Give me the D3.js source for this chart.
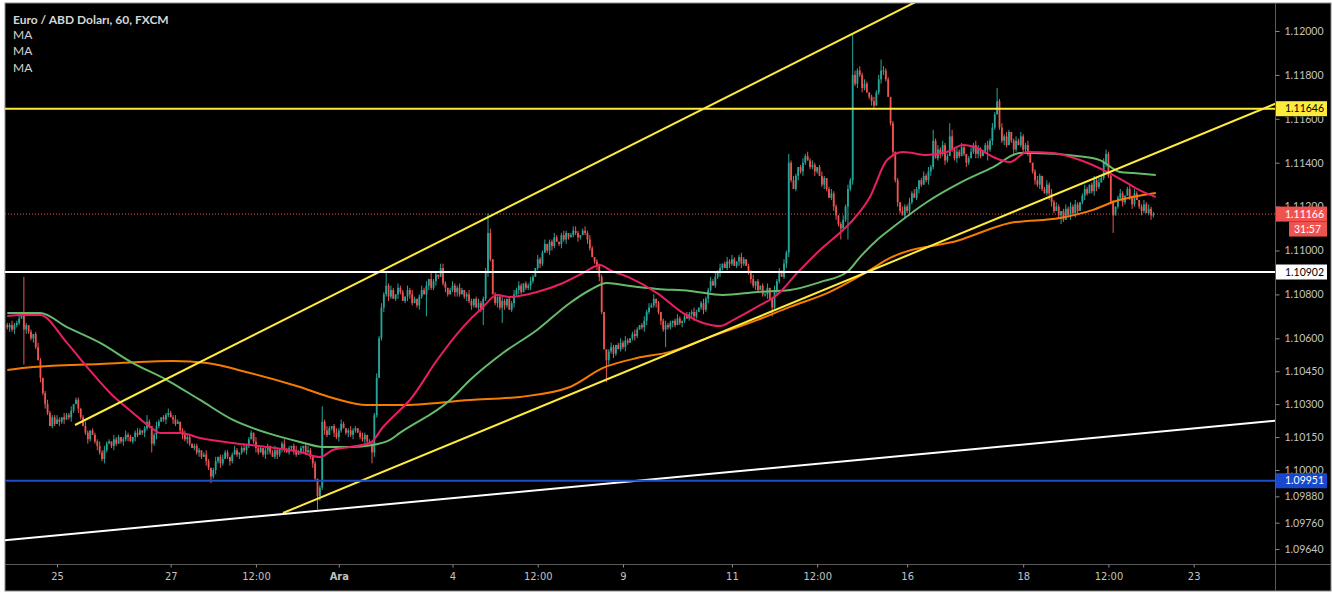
<!DOCTYPE html>
<html><head><meta charset="utf-8">
<script src="https://cdn.jsdelivr.net/npm/d3@7"></script>
<style>
html,body{margin:0;padding:0;background:#fff;}
svg{display:block;}
</style></head><body>
<svg id="c" width="1332" height="592"></svg>
<script>
// ---- DATA (prices in pips above basePrice) ----
const basePrice = 1.1;
const firstOpen = 66;
const closes = [
65,66,64,66,67,69,71,64,66,63,
60,62,56,50,42,35,30,26,20,24,
21,23,22,24,23,25,24,27,30,32,
28,24,20,17,14,18,16,13,11,8,
5,9,12,13,11,14,12,15,13,14,
16,15,13,15,17,16,18,17,19,22,
20,12,16,20,22,24,23,25,26,24,
23,21,22,18,16,14,15,12,10,11,
8,9,6,7,4,1,-3,0,4,6,
3,5,8,6,4,7,9,7,8,10,
9,11,14,17,13,10,8,10,7,9,
11,8,6,9,7,10,12,9,8,10,
11,9,7,8,10,11,8,9,6,3,
-4,-12,-8,22,18,16,19,20,17,15,
18,21,19,17,18,16,18,19,17,15,
14,16,13,12,8,25,42,60,74,80,
84,79,82,78,80,83,81,77,79,82,
80,76,78,75,79,82,80,84,87,83,
86,89,88,92,85,83,80,82,84,81,
83,80,82,79,80,77,75,78,74,76,
73,78,90,108,96,80,76,79,74,77,
75,78,73,76,80,82,84,81,85,83,
84,86,88,92,96,94,99,103,100,104,
102,106,104,103,107,105,108,106,107,109,
108,106,107,109,108,105,101,97,95,93,
88,72,55,50,54,56,53,57,55,58,
56,59,58,60,62,61,64,66,65,68,
72,74,75,78,76,72,68,64,66,65,
67,68,66,69,67,68,70,69,71,72,
70,72,74,76,73,78,82,86,84,88,
90,92,94,92,95,94,96,93,95,97,
94,96,93,90,87,84,86,82,84,80,
80,83,78,74,82,86,90,88,94,99,
140,132,128,134,138,136,140,143,141,138,
139,136,138,134,130,133,128,124,126,120,
116,112,110,114,120,128,132,180,176,182,
180,174,176,172,170,168,166,172,178,182,
182,178,170,158,145,132,122,118,116,120,
118,122,126,124,128,132,130,134,132,136,
138,150,142,146,144,148,141,143,152,146,
142,145,143,147,144,140,142,145,148,144,
146,143,145,148,146,150,156,162,168,156,
150,152,148,154,150,146,150,148,152,146,
148,144,140,136,132,130,134,128,126,130,
126,122,118,120,116,118,114,119,116,120,
117,121,118,122,125,128,126,130,127,132,
129,131,133,140,144,134,122,116,120,124,
126,122,125,128,124,121,126,123,120,118,
121,117,119,116,116.6];
// wick lengths in pips beyond the body (base-36 digits)
const upperWicks =
"1121120h10"+"1012101211"+"1210211201"+"1012101112"+"1211021101"+"2110121013"+"1012101121"+"1210121101"+"1101210120"+"1211012101"+
"2111021101"+"1012101211"+"0121101210"+"1017121012"+"1210121101"+"2101112121"+"6121021102"+"1210121203"+"1102210121"+"1210121012"+
"1129201012"+"1011212101"+"1210211201"+"1210121012"+"2101212101"+"1100121012"+"1210121012"+"1212010121"+"1012101211"+"2101211212"+
"1201212101"+"2101120101"+"1201212121"+"4121012121"+"2101210121"+"1012121j21"+"2121012125"+"2110101021"+"1212101212"+"1512121163"+
"1212101212"+"2101212161"+"2121012121"+"1210121012"+"1212101212"+"1210121012"+"1212212101"+"2101212101"+"21211";
const lowerWicks =
"1212110g21"+"1210212101"+"1021201210"+"2101210121"+"1210121012"+"1201210121"+"1412101210"+"2101212101"+"1210213121"+"2101210121"+
"1210121012"+"2101212101"+"1210121012"+"1621210121"+"2101212101"+"1210521012"+"1210121012"+"2101210a21"+"1210121012"+"2101212101"+
"1712101217"+"2101212101"+"1210121012"+"2101212101"+"1210121012"+"210a212101"+"1210121012"+"2101212181"+"1210121012"+"2101212101"+
"1210121012"+"2101212101"+"1214121012"+"2101212101"+"1210121012"+"21501f1212"+"1210121012"+"2101212101"+"1210121012"+"2101212101"+
"1210121012"+"2101512101"+"1210121012"+"2101212101"+"3210141012"+"1210121012"+"2101211801"+"1210121012"+"10121";

const timeTickBars = [21,69,105,140,188,224,260,306,342,380,429,465,501];
const timeTickLabels = ["25","27","12:00","Ara","4","12:00","9","11","12:00","16","18","12:00","23"];
const priceTicks = [1.12,1.118,1.116,1.114,1.112,1.11,1.108,1.106,1.1045,1.103,1.1015,1.10,1.0988,1.0976,1.0964];

// moving averages: [bar, pips]
const maFast = [[0,70.2],[6.6,70.6],[13.8,70.6],[25.2,57.9],[33.7,46.9],[43.4,35.1],[53.1,26.0],[60.3,19.6],[64.5,16.9],[73,16.9],[81.4,14.6],[95.3,12.3],[109.7,10.5],[123.6,8.2],[132,5.9],[137.5,9.1],[144.7,10.5],[153.2,12.3],[158.7,19.6],[165.8,27.3],[170,31.9],[181.5,50.1],[192.4,65.1],[200.9,74.3],[206.8,79.7],[212.3,78.8],[223.7,81.1],[234.7,85.2],[243.1,89.7],[250.3,93.4],[254.5,91.1],[263,87.5],[274.4,80.6],[285.4,71.5],[293.8,67.0],[301,65.6],[306.5,68.3],[316.6,74.3],[325,79.7],[333.5,89.7],[343.2,100.2],[352.9,109.3],[357.1,113.9],[364.3,124.4],[371.5,141.2],[378.3,144.9],[388.4,143.5],[396.8,144.9],[403.6,148.1],[409.5,146.7],[416.3,142.6],[423.4,140.3],[430.6,144.9],[441.6,144.4],[453,141.2],[464.4,135.8],[472.8,130.8],[479.6,126.7],[485,124.4]];
const maMid = [[0,71.5],[13.8,71.5],[25.2,65.1],[39.2,57.9],[53.1,48.7],[67.4,41.0],[81.4,31.9],[95.3,22.8],[109.7,16.9],[123.6,12.8],[133.3,10.5],[144.7,10.5],[154.4,11.4],[161.6,13.7],[165.8,16.9],[187,31.9],[195.4,41.0],[209.3,53.3],[223.7,63.8],[237.6,76.1],[246.1,82.0],[253.2,85.2],[263,83.8],[274.4,82.5],[288.3,81.6],[302.2,79.7],[316.6,81.1],[330.5,82.0],[343.2,85.6],[354.6,90.2],[360.1,97.0],[367.3,104.8],[374.1,110.7],[388.4,122.1],[402.3,130.8],[416.3,138.0],[427.7,144.4],[433.2,144.4],[451.7,143.1],[461.4,141.2],[469.9,135.8],[475.4,135.3],[485,134.4]];
const maSlow = [[0,45.6],[10.9,46.9],[39.2,48.3],[70,49.7],[84.3,48.7],[102.5,44.2],[123.6,37.8],[137.5,32.8],[151.9,29.6],[165.8,29.6],[195.4,31.9],[216.5,33.3],[237.6,37.8],[251.6,46.5],[265.9,51.0],[279.9,53.8],[295.5,60.1],[316.6,68.3],[330.5,74.3],[346.2,80.6],[364.3,91.1],[372.8,96.6],[402.3,104.8],[423.4,112.5],[444.5,114.8],[458.5,118.5],[466.9,122.1],[485,126.2]];

// drawings [bar, pips]
const upperChannel = [[28.6,20.5],[420,233.0]];
const lowerChannel = [[116.4,-19.6],[540,168.9]];
const whiteTrend = [[-5,-32.4],[540,22.9]];
const levelYellow = 1.11646, levelWhite = 1.10902, levelBlue = 1.09951, lastPrice = 1.11166;
const countdown = "31:57";

// ---- CHART ----
const svg = d3.select("#c");
const W = 1332, H = 592;
const plotL = 5, plotT = 3, plotR = 1275, plotB = 564;
const x = d3.scaleLinear().domain([0, 500]).range([7.3, 7.3 + 500 * 2.368]);
const y = d3.scaleLinear().domain([1.10, 1.12]).range([470, 31]);
const P = p => basePrice + p / 10000;
const fmt = d3.format(".5f");
const axisFont = "Lato, 'Liberation Sans', sans-serif";

svg.append("rect").attr("width", W).attr("height", H).attr("fill", "#ffffff");
svg.append("rect").attr("x", plotL).attr("y", plotT).attr("width", W - plotL - 1).attr("height", H - plotT - 1)
  .attr("fill", "#000").attr("stroke", "#8a8a8a").attr("stroke-width", 1);

const defs = svg.append("defs");
defs.append("clipPath").attr("id", "clip")
  .append("rect").attr("x", plotL).attr("y", plotT).attr("width", plotR - plotL).attr("height", plotB - plotT);
const g = svg.append("g").attr("clip-path", "url(#clip)");

// last price dotted line
g.append("line").attr("x1", plotL).attr("x2", plotR).attr("y1", y(lastPrice)).attr("y2", y(lastPrice))
  .attr("stroke", "#ef5350").attr("stroke-width", 1).attr("stroke-dasharray", "1,2");

// candles
const candles = closes.map((c, i) => {
  const o = i === 0 ? firstOpen : closes[i - 1];
  const uw = parseInt(upperWicks[i] || "1", 36), lw = parseInt(lowerWicks[i] || "1", 36);
  return { i, o, c, h: Math.max(o, c) + uw, l: Math.min(o, c) - lw };
});
const up = "#26a69a", dn = "#ef5350";
const cg = g.append("g");
cg.selectAll("line").data(candles).join("line")
  .attr("x1", d => x(d.i)).attr("x2", d => x(d.i))
  .attr("y1", d => y(P(d.h))).attr("y2", d => y(P(d.l)))
  .attr("stroke", d => d.c >= d.o ? up : dn).attr("stroke-width", 1);
cg.selectAll("rect").data(candles).join("rect")
  .attr("x", d => x(d.i) - 0.9).attr("width", 1.8)
  .attr("y", d => y(P(Math.max(d.o, d.c))))
  .attr("height", d => Math.max(1, y(P(Math.min(d.o, d.c))) - y(P(Math.max(d.o, d.c)))))
  .attr("fill", d => d.c >= d.o ? up : dn);

// moving averages
const maLine = d3.line().x(d => x(d[0])).y(d => y(P(d[1]))).curve(d3.curveMonotoneX);
[[maSlow, "#f57c00"], [maMid, "#66bb6a"], [maFast, "#e91e63"]].forEach(([data, col]) => {
  g.append("path").attr("d", maLine(data)).attr("fill", "none").attr("stroke", col).attr("stroke-width", 2);
});

// drawings
const seg = d3.line().x(d => x(d[0])).y(d => y(P(d[1])));
g.append("path").attr("d", seg(whiteTrend)).attr("stroke", "#ffffff").attr("stroke-width", 2).attr("fill", "none");
g.append("path").attr("d", seg(upperChannel)).attr("stroke", "#ffeb3b").attr("stroke-width", 2).attr("fill", "none");
g.append("path").attr("d", seg(lowerChannel)).attr("stroke", "#ffeb3b").attr("stroke-width", 2).attr("fill", "none");
[[levelWhite, "#ffffff"], [levelBlue, "#1e4fc8"], [levelYellow, "#ffeb3b"]].forEach(([lv, col]) => {
  g.append("line").attr("x1", plotL).attr("x2", plotR).attr("y1", y(lv)).attr("y2", y(lv))
    .attr("stroke", col).attr("stroke-width", 2);
});

// separators
svg.append("line").attr("x1", plotR + 0.5).attr("x2", plotR + 0.5).attr("y1", plotT).attr("y2", H - 1).attr("stroke", "#5a5a5a");
svg.append("line").attr("x1", plotL).attr("x2", W - 1).attr("y1", plotB + 0.5).attr("y2", plotB + 0.5).attr("stroke", "#5a5a5a");

// price axis (ticks hidden by the coloured tags show only their uncovered part)
const ya = svg.append("g").attr("transform", `translate(${plotR + 0.5},0)`)
  .call(d3.axisRight(y).tickValues(priceTicks).tickFormat(fmt).tickSize(4).tickPadding(5));
ya.select(".domain").remove();
ya.selectAll("line").attr("stroke", "#8a8a8a");
ya.selectAll("text").attr("fill", "#c3c3c3").style("font-family", axisFont).style("font-size", "10.5px");
const tagH = 15;
defs.append("clipPath").attr("id", "clipBelowYellow").attr("clipPathUnits", "userSpaceOnUse")
  .append("rect").attr("x", 0).attr("width", 60)
  .attr("y", y(levelYellow) + tagH / 2 - y(1.116)).attr("height", 20);
defs.append("clipPath").attr("id", "clipAboveRed").attr("clipPathUnits", "userSpaceOnUse")
  .append("rect").attr("x", 0).attr("width", 60)
  .attr("y", -20).attr("height", 20 + (y(lastPrice) - tagH / 2 - y(1.112)));
ya.selectAll(".tick").filter(d => Math.abs(d - 1.116) < 1e-9).select("text").attr("clip-path", "url(#clipBelowYellow)");
ya.selectAll(".tick").filter(d => Math.abs(d - 1.112) < 1e-9).select("text").attr("clip-path", "url(#clipAboveRed)");

// time axis
const xa = svg.append("g").attr("transform", `translate(0,${plotB + 0.5})`)
  .call(d3.axisBottom(x).tickValues(timeTickBars).tickFormat((d, k) => timeTickLabels[k]).tickSize(3).tickPadding(5));
xa.select(".domain").remove();
xa.selectAll("line").attr("stroke", "#8a8a8a");
xa.selectAll("text").attr("fill", "#c3c3c3")
  .style("font-family", "'Liberation Sans Narrow','DejaVu Sans Condensed','Liberation Sans',sans-serif")
  .style("font-size", "11px")
  .style("font-weight", (d, k) => timeTickLabels[k] === "Ara" ? "bold" : "normal");

// highlighted price tags
function tag(v, text, fill, txt, dy, x0) {
  const yy = y(v) + (dy || 0);
  const xs = x0 || plotR + 1;
  svg.append("rect").attr("x", xs).attr("y", yy - tagH / 2).attr("width", W - 5 - xs).attr("height", tagH).attr("fill", fill);
  if (text) svg.append("text").attr("x", xs + (x0 ? 5 : 9)).attr("y", yy).attr("dy", "0.35em").text(text)
    .attr("fill", txt).style("font-family", axisFont).style("font-size", "10.5px");
}
tag(levelYellow, fmt(levelYellow), "#ffeb3b", "#000");
tag(levelWhite, fmt(levelWhite), "#ffffff", "#000");
tag(levelBlue, fmt(levelBlue), "#1848cc", "#fff");
tag(lastPrice, fmt(lastPrice), "#ef5350", "#fff");
tag(lastPrice, countdown, "#ef5350", "#fff", tagH, plotR + 14);

// legend
const lg = svg.append("g").style("font-family", "Lato, 'Open Sans', sans-serif").style("font-size", "12px").attr("fill", "#d6d6d6");
lg.append("text").attr("x", 13).attr("y", 24).style("font-weight", "bold").text("Euro / ABD Doları, 60, FXCM");
["MA", "MA", "MA"].forEach((t, k) => lg.append("text").attr("x", 13).attr("y", 39 + k * 16.3).text(t));
</script>
</body></html>
